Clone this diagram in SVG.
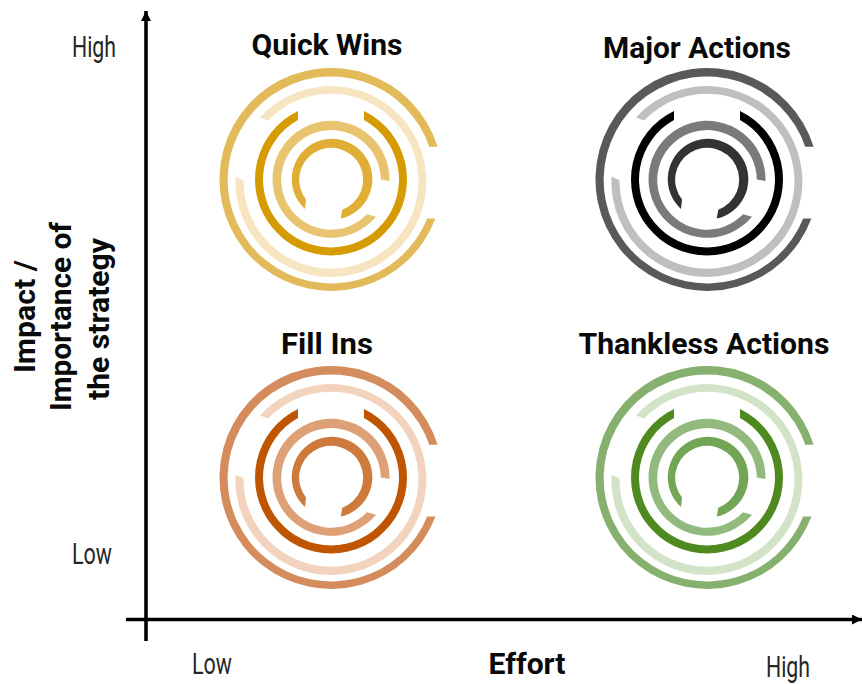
<svg xmlns="http://www.w3.org/2000/svg" xmlns:xlink="http://www.w3.org/1999/xlink" width="862" height="684" viewBox="0 0 862 684">
<style>
.r1{fill:var(--c1)}.r2{fill:var(--c2)}.r3{fill:var(--c3)}.r4{fill:var(--c4)}.r5{fill:var(--c5)}
.title{font-family:"Roboto","Liberation Sans",sans-serif;font-weight:700;font-size:29px;fill:#0a0a0a;text-anchor:middle}
.tick{font-family:"Roboto","Liberation Sans",sans-serif;font-size:30px;fill:#262626;text-anchor:middle}
.axis{font-family:"Roboto","Liberation Sans",sans-serif;font-weight:700;font-size:29px;fill:#0a0a0a;text-anchor:middle}
.line{stroke:#000;stroke-width:3.6;fill:none}
</style>
<defs>
<marker id="arrow" markerUnits="userSpaceOnUse" markerWidth="12" markerHeight="12" refX="10" refY="5" orient="auto"><path d="M0 0L10 5L0 10Z" fill="#000"/></marker>
<g id="rings">
<path class="r1" d="M106.6 -32.7A111.5 111.5 0 1 0 104.4 39L96.2 39A103.5 103.5 0 1 1 98.2 -32.7Z"/>
<path class="r2" d="M-71 -62A95.5 95.5 0 1 1 -95.5 -2.7L-87.5 .7A87.5 87.5 0 1 0 -63 -59Z"/>
<path class="r3" d="M-33 -68.5A76 76 0 1 0 33 -68.5L33 -59.5A68 68 0 1 1 -33 -59.5Z"/>
<path class="r4" d="M58.5 1.5A58.5 58.5 0 1 0 45 37.2L36 34.8A49.8 49.8 0 1 1 49.8 0Z"/>
<path class="r5" d="M-26 29.5A40.3 40.3 0 1 1 9.7 39L11.3 30.2A32 32 0 1 0 -25 20Z"/>
</g>
</defs>
<g id="connectors">
<path class="line" d="M146 641V11" marker-end="url(#arrow)"/>
<path class="line" d="M126 619.5H862" marker-end="url(#arrow)"/>
</g>
<g id="quick-wins" style="--c1:#E2BA5A;--c2:#F6E5C0;--c3:#D59B00;--c4:#E8C470;--c5:#E0AE35">
<use href="#rings" xlink:href="#rings" x="331" y="179.5"/>
<text class="title" x="327" y="55" textLength="151" lengthAdjust="spacingAndGlyphs">Quick Wins</text>
</g>
<g id="major-actions" style="--c1:#595959;--c2:#BFBFBF;--c3:#000000;--c4:#7A7A7A;--c5:#333333">
<use href="#rings" xlink:href="#rings" x="707" y="179.5"/>
<text class="title" x="697" y="58" textLength="188" lengthAdjust="spacingAndGlyphs">Major Actions</text>
</g>
<g id="fill-ins" style="--c1:#D48C5C;--c2:#F2D3BE;--c3:#C05500;--c4:#DEA076;--c5:#CF7A3D">
<use href="#rings" xlink:href="#rings" x="331" y="477.5"/>
<text class="title" x="327" y="354" textLength="92" lengthAdjust="spacingAndGlyphs">Fill Ins</text>
</g>
<g id="thankless-actions" style="--c1:#86B06E;--c2:#D3E3C8;--c3:#4E8A1F;--c4:#93BA7E;--c5:#72A656">
<use href="#rings" xlink:href="#rings" x="707" y="477.5"/>
<text class="title" x="704" y="354" textLength="251" lengthAdjust="spacingAndGlyphs">Thankless Actions</text>
</g>
<g id="labels">
<text class="tick" x="94" y="57" textLength="44" lengthAdjust="spacingAndGlyphs">High</text>
<text class="tick" x="92" y="564" textLength="40" lengthAdjust="spacingAndGlyphs">Low</text>
<text class="tick" x="212" y="674" textLength="40" lengthAdjust="spacingAndGlyphs">Low</text>
<text class="tick" x="788" y="677" textLength="44" lengthAdjust="spacingAndGlyphs">High</text>
<text class="axis" x="527" y="674" textLength="77" lengthAdjust="spacingAndGlyphs">Effort</text>
<text class="axis" transform="translate(34.5 316.5) rotate(-90)" textLength="113" lengthAdjust="spacingAndGlyphs">Impact /</text>
<text class="axis" transform="translate(71 316.5) rotate(-90)" textLength="189" lengthAdjust="spacingAndGlyphs">Importance of</text>
<text class="axis" transform="translate(109 319) rotate(-90)" textLength="162" lengthAdjust="spacingAndGlyphs">the strategy</text>
</g>
</svg>
